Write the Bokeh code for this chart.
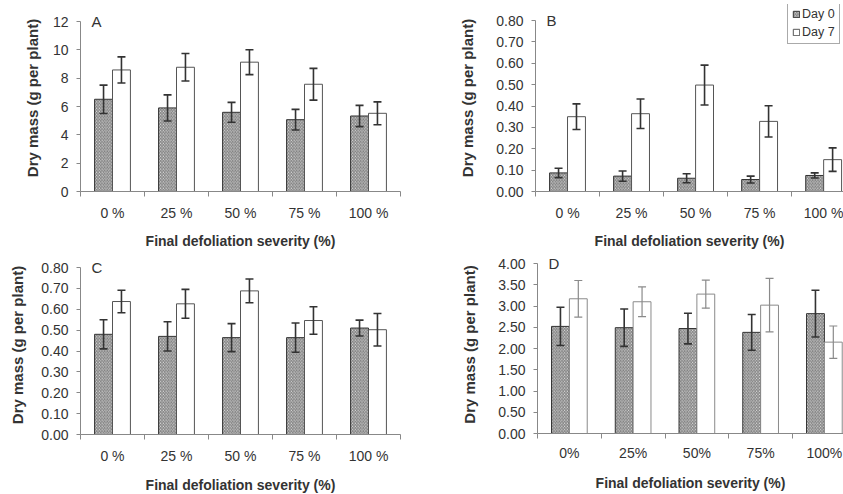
import numpy as np
from bokeh.plotting import figure
from bokeh.models import (ColumnDataSource, Range1d, FixedTicker, SingleIntervalTicker,
                          NumeralTickFormatter, Whisker, TeeHead, Label)
from bokeh.layouts import column, row
from bokeh.embed import file_html
from bokeh.resources import INLINE

# ---------------- data ----------------
severity_abc = ["0 %", "25 %", "50 %", "75 %", "100 %"]
severity_d = ["0%", "25%", "50%", "75%", "100%"]
series_names = ["Day 0", "Day 7"]

a_day0 = [6.51, 5.90, 5.59, 5.07, 5.33]
a_day0_err = [1.00, 0.92, 0.70, 0.73, 0.75]
a_day7 = [8.58, 8.77, 9.13, 7.57, 5.52]
a_day7_err = [0.92, 0.97, 0.88, 1.12, 0.81]

b_day0 = [0.087, 0.072, 0.062, 0.056, 0.075]
b_day0_err = [0.022, 0.024, 0.021, 0.016, 0.012]
b_day7 = [0.350, 0.364, 0.498, 0.328, 0.149]
b_day7_err = [0.060, 0.069, 0.093, 0.073, 0.055]

c_day0 = [0.480, 0.470, 0.464, 0.464, 0.510]
c_day0_err = [0.070, 0.070, 0.067, 0.070, 0.038]
c_day7 = [0.637, 0.626, 0.688, 0.546, 0.502]
c_day7_err = [0.054, 0.069, 0.057, 0.066, 0.078]

d_day0 = [2.52, 2.49, 2.47, 2.38, 2.82]
d_day0_err = [0.45, 0.44, 0.36, 0.42, 0.55]
d_day7 = [3.17, 3.10, 3.28, 3.02, 2.15]
d_day7_err = [0.43, 0.35, 0.33, 0.63, 0.38]

FONT = "Liberation Sans"
TXT = "#333333"
AX = "#888888"


def panel(labels, d0, e0, d7, e7, y_end, y_step, fmt, letter,
          b_left, b_right, b_top, b_bottom, f_w, data_h, pad, x_end, ylab_standoff,
          xlab_standoff=8, xtitle_standoff=9,
          day7_line="#555555", day7_err="#333333", day7_err_w=1.6, legend=False):
    n = len(labels)
    centers = np.arange(n) + 0.5
    bw = 0.28
    f_h = data_h + pad
    y_top = y_end * f_h / data_h          # headroom above the top tick (for letter / legend)
    p = figure(frame_width=f_w, frame_height=f_h, output_backend="svg", toolbar_location=None,
               x_range=Range1d(0, x_end), y_range=Range1d(0, y_top),
               min_border_left=b_left, min_border_right=b_right,
               min_border_top=b_top, min_border_bottom=b_bottom)
    p.outline_line_color = None
    p.xgrid.visible = False
    p.ygrid.visible = False
    p.background_fill_color = "white"
    p.border_fill_color = "white"

    d0 = np.array(d0); e0 = np.array(e0); d7 = np.array(d7); e7 = np.array(e7)
    s0 = ColumnDataSource(dict(x=centers - bw / 2, top=d0, upper=d0 + e0, lower=d0 - e0))
    s7 = ColumnDataSource(dict(x=centers + bw / 2, top=d7, upper=d7 + e7, lower=d7 - e7))

    kw0 = dict(x="x", top="top", width=bw, bottom=0, source=s0,
               fill_color="#ebebeb", hatch_pattern="left_diagonal_line",
               hatch_color="#777777", hatch_scale=3.2, hatch_weight=1,
               line_color="#333333", line_width=1)
    kw7 = dict(x="x", top="top", width=bw, bottom=0, source=s7,
               fill_color="white", line_color=day7_line, line_width=1)
    if legend:
        kw0["legend_label"] = series_names[0]
        kw7["legend_label"] = series_names[1]
    p.vbar(**kw0)
    p.vbar(**kw7)

    p.add_layout(Whisker(source=s0, base="x", upper="upper", lower="lower", level="overlay",
                         line_color="#333333", line_width=1.6,
                         upper_head=TeeHead(size=8, line_color="#333333", line_width=1.6),
                         lower_head=TeeHead(size=8, line_color="#333333", line_width=1.6)))
    p.add_layout(Whisker(source=s7, base="x", upper="upper", lower="lower", level="overlay",
                         line_color=day7_err, line_width=day7_err_w,
                         upper_head=TeeHead(size=8, line_color=day7_err, line_width=day7_err_w),
                         lower_head=TeeHead(size=8, line_color=day7_err, line_width=day7_err_w)))

    # x axis: labels at category centres, ticks at category boundaries
    xa = p.xaxis[0]
    xa.ticker = FixedTicker(ticks=list(centers), minor_ticks=list(np.arange(n + 1)))
    xa.major_label_overrides = {float(c): lab for c, lab in zip(centers, labels)}
    xa.major_tick_out = 0
    xa.major_tick_in = 0
    xa.minor_tick_out = 5
    xa.minor_tick_in = 0
    xa.minor_tick_line_color = AX
    xa.axis_line_color = AX
    xa.major_label_standoff = xlab_standoff
    xa.major_label_text_font = FONT
    xa.major_label_text_font_size = "14px"
    xa.major_label_text_color = TXT
    xa.axis_label = "Final defoliation severity (%)"
    xa.axis_label_text_font = FONT
    xa.axis_label_text_font_size = "14px"
    xa.axis_label_text_font_style = "bold"
    xa.axis_label_text_color = TXT
    xa.axis_label_standoff = xtitle_standoff

    ya = p.yaxis[0]
    ya.ticker = SingleIntervalTicker(interval=y_step, num_minor_ticks=0)
    ya.formatter = NumeralTickFormatter(format=fmt)
    ya.bounds = (0, y_end)
    ya.axis_line_color = AX
    ya.major_tick_line_color = AX
    ya.major_tick_out = 4
    ya.major_tick_in = 0
    ya.minor_tick_out = 0
    ya.minor_tick_in = 0
    ya.major_label_standoff = 8
    ya.major_label_text_font = FONT
    ya.major_label_text_font_size = "14px"
    ya.major_label_text_color = TXT
    ya.axis_label = "Dry mass (g per plant)"
    ya.axis_label_text_font = FONT
    ya.axis_label_text_font_size = "15px"
    ya.axis_label_text_font_style = "bold"
    ya.axis_label_text_color = TXT
    ya.axis_label_standoff = ylab_standoff

    p.add_layout(Label(x=11, x_units="screen", y=y_end, text=letter,
                       text_baseline="middle", text_font=FONT,
                       text_font_size="15px", text_color=TXT))

    if legend:
        lg = p.legend[0]
        lg.location = (252, data_h - 24)
        lg.label_text_font = FONT
        lg.label_text_font_size = "12.5px"
        lg.label_text_color = TXT
        lg.glyph_width = 8
        lg.glyph_height = 8
        lg.label_standoff = 2
        lg.label_height = 15
        lg.padding = 4
        lg.spacing = 3
        lg.margin = 0
        lg.border_line_color = "#555555"
        lg.border_line_width = 1
        lg.background_fill_color = "white"
        lg.background_fill_alpha = 1
    return p


pA = panel(severity_abc, a_day0, a_day0_err, a_day7, a_day7_err, 12, 2, "0", "A",
           80, 20, 4, 59, 320, 170, 17, 5, 9)
pB = panel(severity_abc, b_day0, b_day0_err, b_day7, b_day7_err, 0.8, 0.1, "0.00", "B",
           115, 0, 4, 59, 308, 171, 16, 4.81, 17, legend=True)
pC = panel(severity_abc, c_day0, c_day0_err, c_day7, c_day7_err, 0.8, 0.1, "0.00", "C",
           80, 20, 4, 60, 320, 167, 12, 5, 12, xlab_standoff=8, xtitle_standoff=10)
pD = panel(severity_d, d_day0, d_day0_err, d_day7, d_day7_err, 4.0, 0.5, "0.00", "D",
           117, 0, 4, 61, 306, 170, 8, 4.8, 17, xlab_standoff=6, xtitle_standoff=11,
           day7_line="#8a8a8a", day7_err="#8a8a8a", day7_err_w=1.2)

layout = column(row(pA, pB), row(pC, pD))

with open("out.html", "w") as f:
    f.write(file_html(layout, INLINE))
